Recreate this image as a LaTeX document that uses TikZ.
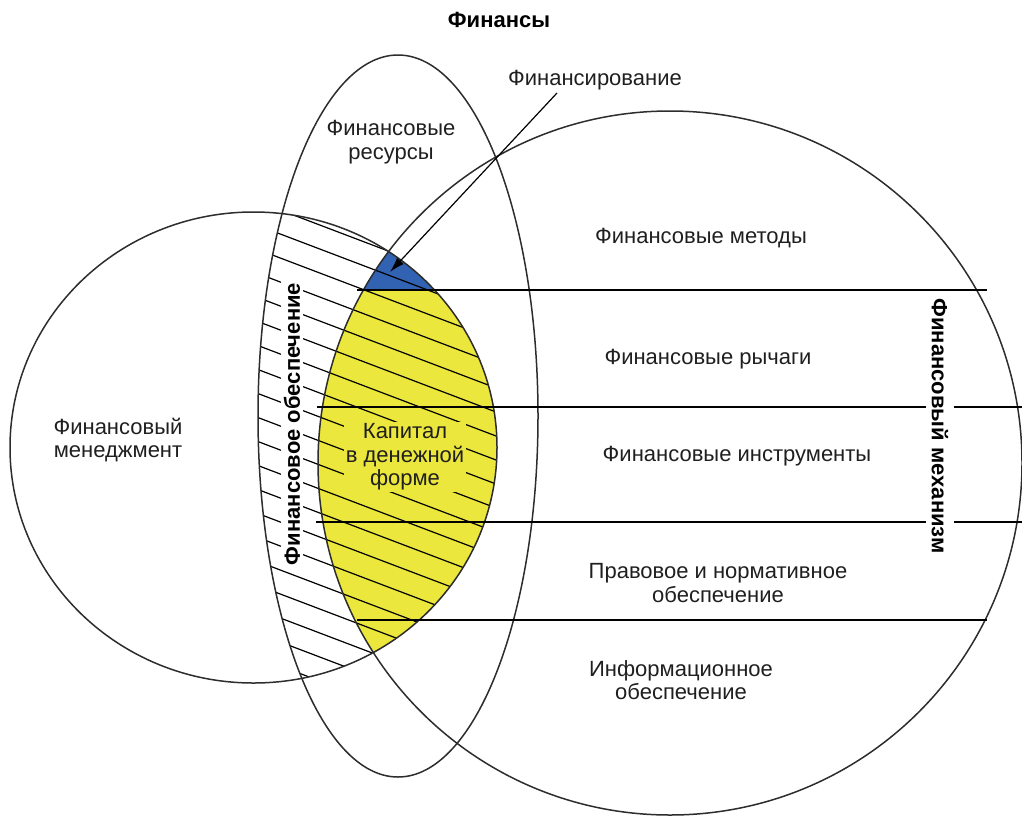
\documentclass[tikz,border=0pt]{standalone}
\usepackage{fontspec}
\setmainfont{Liberation Sans}
\usetikzlibrary{arrows.meta}
\definecolor{capyellow}{RGB}{236,231,60}
\definecolor{finblue}{RGB}{50,98,178}
\definecolor{lineg}{RGB}{45,45,45}
\begin{document}
\begin{tikzpicture}[x=1pt,y=-1pt,
  outline/.style={draw=lineg, line width=1.5pt},
  hatch/.style={draw=black, line width=1.2pt},
  divider/.style={draw=black, line width=1.5pt},
  lbl/.style={font=\fontsize{22}{23.5}\selectfont, align=center, inner sep=0pt, text=black!88},
  blbl/.style={font=\bfseries\fontsize{22}{23.5}\selectfont, align=center, inner sep=0pt},
  arrowline/.style={draw=black, line width=1.2pt, -{Latex[length=15pt,width=9pt]}}
]
\useasboundingbox (0,0) rectangle (1022,817);
% coloured lens (left circle and big circle)
\begin{scope}
  \clip (253.5,447.5) ellipse [x radius=243.5, y radius=235.5];
  \clip (0,290) rectangle (1022,817);
  \fill[capyellow] (670,463) circle (352);
\end{scope}
\begin{scope}
  \clip (253.5,447.5) ellipse [x radius=243.5, y radius=235.5];
  \clip (0,0) rectangle (1022,290);
  \fill[finblue] (670,463) circle (352);
\end{scope}
% hatching: left circle intersected with the Finance ellipse
\begin{scope}
  \clip (253.5,447.5) ellipse [x radius=243.5, y radius=235.5];
  \clip (398,416) ellipse [x radius=140, y radius=361];
  \foreach \k in {-2,...,20} {
    \draw[hatch] (200,{127.5+24*\k+0.38*200}) -- (600,{127.5+24*\k+0.38*600});
  }
\end{scope}
% outlines
\draw[outline] (253.5,447.5) ellipse [x radius=243.5, y radius=235.5];
\draw[outline] (398,416) ellipse [x radius=140, y radius=361];
\draw[outline] (670,463) circle (352);
% horizontal dividers
\draw[divider] (357,290) -- (987,290);
\draw[divider] (317,407) -- (1022,407);
\draw[divider] (316,522) -- (1022,522);
\draw[divider] (357,620) -- (987,620);
% labels
\node[blbl] (finansy) at (499,20) {Финансы};
\node[lbl] (financing) at (595,80) {Финансирование};
\node[lbl] (resources) at (391,142) {Финансовые\\ресурсы};
\node[lbl] (methods) at (701,238) {Финансовые методы};
\node[lbl] (levers) at (708,359) {Финансовые рычаги};
\node[lbl] (instr) at (737,456) {Финансовые инструменты};
\node[lbl] (legal) at (718,583) {Правовое и нормативное\\обеспечение};
\node[lbl] (info) at (681,680) {Информационное\\обеспечение};
\node[lbl] (mgmt) at (118,440) {Финансовый\\менеджмент};
\node[lbl, fill=capyellow, inner sep=2pt] (capital) at (405,457) {Капитал\\в денежной\\форме};
\node[blbl, rotate=90, fill=white, inner xsep=2pt, inner ysep=3pt] (support) at (292,424) {Финансовое обеспечение};
\node[blbl, rotate=-90, fill=white, inner xsep=2pt, inner ysep=6pt] (mechanism) at (940,426) {Финансовый механизм};
% arrow
\coordinate (arrstart) at (557,93);
\coordinate (arrtip) at (390,272);
\draw[arrowline] (arrstart) -- (arrtip);
\end{tikzpicture}
\end{document}
